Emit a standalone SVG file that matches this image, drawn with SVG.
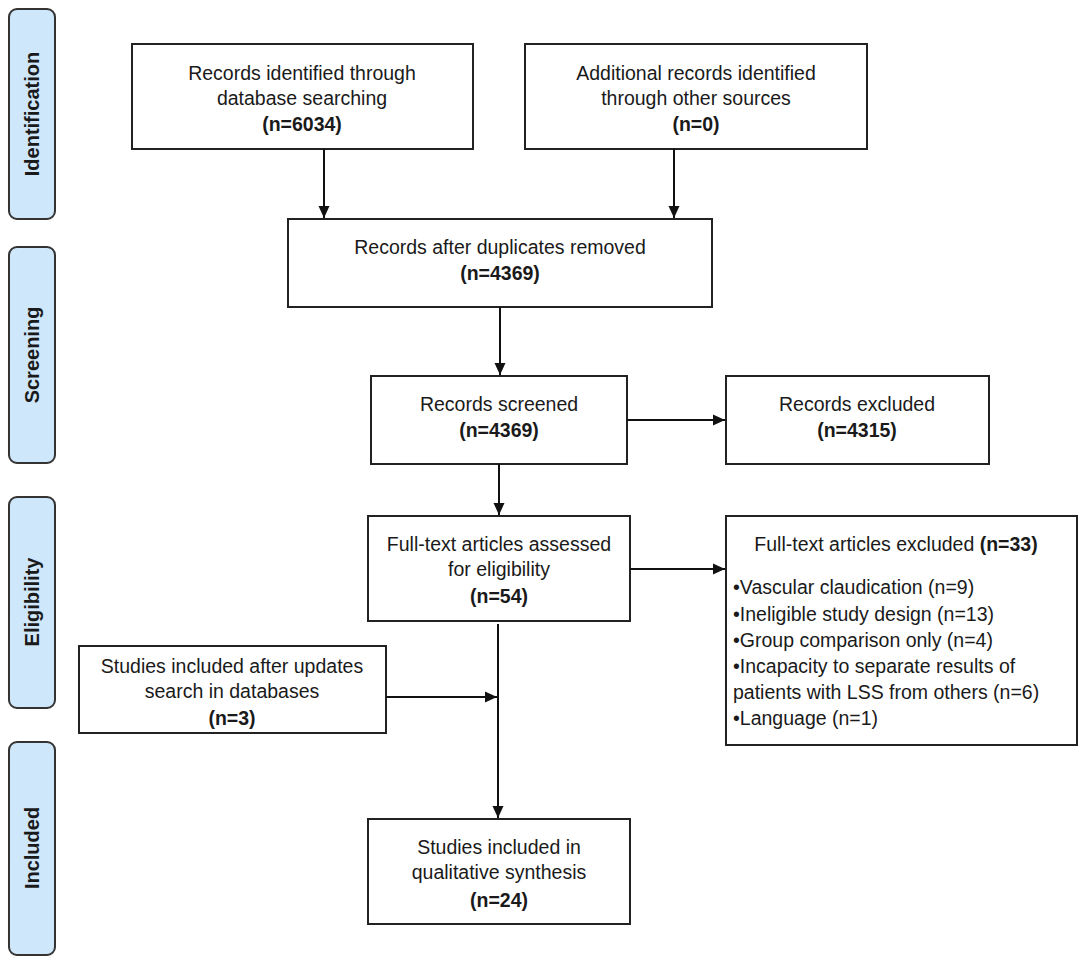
<svg xmlns="http://www.w3.org/2000/svg" width="1084" height="963" viewBox="0 0 1084 963">
<defs>
<style>
.box{fill:#ffffff;stroke:#222;stroke-width:2}
.lab{fill:#cfe7fb;stroke:#333;stroke-width:2}
.t{font-family:"Liberation Sans",Arial,sans-serif;font-size:19.5px;fill:#1a1a1a;text-anchor:middle}
.tl{font-family:"Liberation Sans",Arial,sans-serif;font-size:19.5px;fill:#1a1a1a}
.b{font-weight:bold}
.lt{font-family:"Liberation Sans",Arial,sans-serif;font-size:20px;font-weight:bold;fill:#1a1a1a;text-anchor:middle}
.c{stroke:#111;stroke-width:2;fill:none}
</style>
<marker id="ah" viewBox="0 0 12 12" refX="12" refY="6" markerWidth="12" markerHeight="12" markerUnits="userSpaceOnUse" orient="auto">
<path d="M0,0.5 L12,6 L0,11.5 z" fill="#111"/>
</marker>
</defs>
<rect width="1084" height="963" fill="#ffffff"/>

<g id="label-identification">
<rect class="lab" x="9" y="9" width="46" height="210" rx="8"/>
<text class="lt" transform="translate(39,114) rotate(-90)">Identification</text>
</g>
<g id="label-screening">
<rect class="lab" x="9" y="247" width="46" height="216" rx="8"/>
<text class="lt" transform="translate(39,355) rotate(-90)">Screening</text>
</g>
<g id="label-eligibility">
<rect class="lab" x="9" y="497" width="46" height="211" rx="8"/>
<text class="lt" transform="translate(39,602) rotate(-90)">Eligibility</text>
</g>
<g id="label-included">
<rect class="lab" x="9" y="742" width="46" height="213" rx="8"/>
<text class="lt" transform="translate(39,848) rotate(-90)">Included</text>
</g>

<g id="node-db">
<rect class="box" x="132" y="44" width="341" height="105"/>
<text class="t" x="302" y="80">Records identified through</text>
<text class="t" x="302" y="105">database searching</text>
<text class="t b" x="302" y="131">(n=6034)</text>
</g>
<g id="node-other">
<rect class="box" x="525" y="44" width="342" height="105"/>
<text class="t" x="696" y="80">Additional records identified</text>
<text class="t" x="696" y="105">through other sources</text>
<text class="t b" x="696" y="131">(n=0)</text>
</g>
<g id="node-dup">
<rect class="box" x="288" y="219" width="424" height="88"/>
<text class="t" x="500" y="254">Records after duplicates removed</text>
<text class="t b" x="500" y="280">(n=4369)</text>
</g>
<g id="node-screened">
<rect class="box" x="371" y="376" width="256" height="88"/>
<text class="t" x="499" y="411">Records screened</text>
<text class="t b" x="499" y="437">(n=4369)</text>
</g>
<g id="node-excluded">
<rect class="box" x="726" y="376" width="263" height="88"/>
<text class="t" x="857" y="411">Records excluded</text>
<text class="t b" x="857" y="437">(n=4315)</text>
</g>
<g id="node-fulltext">
<rect class="box" x="368" y="516" width="262" height="105"/>
<text class="t" x="499" y="551">Full-text articles assessed</text>
<text class="t" x="499" y="576">for eligibility</text>
<text class="t b" x="499" y="603">(n=54)</text>
</g>
<g id="node-ftexcluded">
<rect class="box" x="726" y="516" width="351" height="229"/>
<text class="t" x="896" y="551">Full-text articles excluded <tspan class="b">(n=33)</tspan></text>
<text class="tl" x="733" y="594">•Vascular claudication (n=9)</text>
<text class="tl" x="733" y="621">•Ineligible study design (n=13)</text>
<text class="tl" x="733" y="647">•Group comparison only (n=4)</text>
<text class="tl" x="733" y="673">•Incapacity to separate results of</text>
<text class="tl" x="733" y="699">patients with LSS from others (n=6)</text>
<text class="tl" x="733" y="725">•Language (n=1)</text>
</g>
<g id="node-updates">
<rect class="box" x="79" y="646" width="307" height="87"/>
<text class="t" x="232" y="673">Studies included after updates</text>
<text class="t" x="232" y="698">search in databases</text>
<text class="t b" x="232" y="725">(n=3)</text>
</g>
<g id="node-included">
<rect class="box" x="368" y="819" width="262" height="105"/>
<text class="t" x="499" y="854">Studies included in</text>
<text class="t" x="499" y="879">qualitative synthesis</text>
<text class="t b" x="499" y="907">(n=24)</text>
</g>

<g id="connectors">
<line class="c" x1="324" y1="149" x2="324" y2="218" marker-end="url(#ah)"/>
<line class="c" x1="674" y1="149" x2="674" y2="218" marker-end="url(#ah)"/>
<line class="c" x1="500" y1="307" x2="500" y2="375" marker-end="url(#ah)"/>
<line class="c" x1="627" y1="420" x2="725" y2="420" marker-end="url(#ah)"/>
<line class="c" x1="499" y1="464" x2="499" y2="515" marker-end="url(#ah)"/>
<line class="c" x1="630" y1="569" x2="725" y2="569" marker-end="url(#ah)"/>
<line class="c" x1="498" y1="624" x2="498" y2="818" marker-end="url(#ah)"/>
<line class="c" x1="386" y1="697" x2="497" y2="697" marker-end="url(#ah)"/>
</g>
</svg>
